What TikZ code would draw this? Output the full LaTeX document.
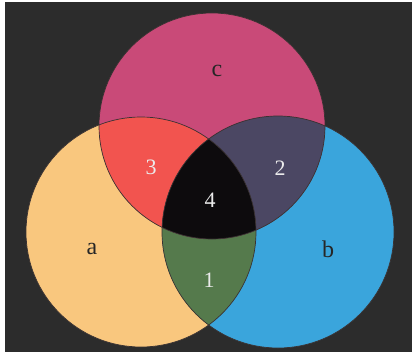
\documentclass[tikz,border=0pt]{standalone}
\usepackage{fontspec}
\setmainfont{Liberation Serif}
\definecolor{bgdark}{HTML}{2C2C2C}
\definecolor{ca}{HTML}{F9C77E}
\definecolor{cb}{HTML}{3AA5DC}
\definecolor{cc}{HTML}{C94A78}
\definecolor{cac}{HTML}{F2544F}
\definecolor{cbc}{HTML}{4B4763}
\definecolor{cab}{HTML}{557A4C}
\definecolor{cabc}{HTML}{0D0B0D}
\definecolor{edge}{HTML}{3A3232}
\tikzset{
  lbldark/.style={text=black!85, font=\fontsize{24}{24}\selectfont},
  lbllight/.style={text=white!92!black, font=\fontsize{22}{22}\selectfont},
  rim/.style={draw=edge, line width=0.7pt}
}
\begin{document}
\begin{tikzpicture}[x=1pt,y=-1pt]
\useasboundingbox (0,0) rectangle (412,361);
\fill[white] (0,0) rectangle (412,361);
\fill[bgdark] (5,2) rectangle (412,352);
\coordinate (A) at (141,232);
\coordinate (B) at (278,232);
\coordinate (C) at (212,126);
\def\ra{115}\def\rb{116}\def\rc{113}
\fill[ca] (A) circle[radius=\ra];
\fill[cb] (B) circle[radius=\rb];
\fill[cc] (C) circle[radius=\rc];
\begin{scope}\clip (A) circle[radius=\ra]; \fill[cab] (B) circle[radius=\rb];\end{scope}
\begin{scope}\clip (A) circle[radius=\ra]; \fill[cac] (C) circle[radius=\rc];\end{scope}
\begin{scope}\clip (B) circle[radius=\rb]; \fill[cbc] (C) circle[radius=\rc];\end{scope}
\begin{scope}\clip (A) circle[radius=\ra]; \clip (B) circle[radius=\rb]; \fill[cabc] (C) circle[radius=\rc];\end{scope}
\draw[rim] (A) circle[radius=\ra];
\draw[rim] (B) circle[radius=\rb];
\draw[rim] (C) circle[radius=\rc];
\node[lbldark] (la) at (92,249) {a};
\node[lbldark] (lb) at (328,249) {b};
\node[lbldark] (lc) at (217,71) {c};
\node[lbllight] (l3) at (151,167) {3};
\node[lbllight] (l2) at (280,168) {2};
\node[lbllight] (l4) at (210,200) {4};
\node[lbllight] (l1) at (209,280) {1};
\end{tikzpicture}
\end{document}
